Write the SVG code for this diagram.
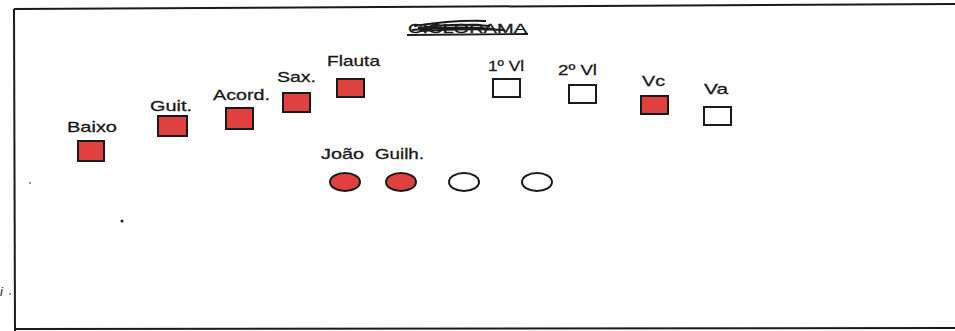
<svg xmlns="http://www.w3.org/2000/svg" width="955" height="331" viewBox="0 0 955 331">
<style>
text{font-family:"Liberation Sans",Arial,sans-serif;font-size:15px;fill:#1a1a1a;stroke:#1a1a1a;stroke-width:0.3}
.r{fill:#e0413f;stroke:#1a1a1a;stroke-width:2}
.w{fill:#fff;stroke:#1a1a1a;stroke-width:2}
</style>
<rect width="955" height="331" fill="#fff"/>
<g id="frame" fill="none" stroke="#1a1a1a" stroke-width="2">
<path d="M14 9 L955 4"/>
<path d="M14 9 L15 331"/>
<path d="M15 329 L955 328"/>
</g>
<g id="title">
<text x="408" y="33" textLength="119" lengthAdjust="spacingAndGlyphs" style="font-size:13px">CICLORAMA</text>
<path d="M407 35 L528 34" stroke="#1a1a1a" stroke-width="1.8" fill="none"/>
<path d="M414 26 C440 22 460 20 486 21 M418 28 C445 24 470 24 490 26 M412 30 C440 27 470 27 495 29 M420 31 C450 29 480 29 505 30" stroke="#1a1a1a" stroke-width="2" fill="none"/>
</g>
<g id="baixo"><text x="67" y="132" textLength="50" lengthAdjust="spacingAndGlyphs">Baixo</text><rect class="r" x="78" y="141" width="26" height="20"/></g>
<g id="guit"><text x="150" y="111" textLength="42" lengthAdjust="spacingAndGlyphs">Guit.</text><rect class="r" x="158" y="116" width="29" height="20"/></g>
<g id="acord"><text x="213" y="100" textLength="57" lengthAdjust="spacingAndGlyphs">Acord.</text><rect class="r" x="226" y="108" width="27" height="21"/></g>
<g id="sax"><text x="277" y="82" textLength="39" lengthAdjust="spacingAndGlyphs">Sax.</text><rect class="r" x="283" y="93" width="27" height="19"/></g>
<g id="flauta"><text x="327" y="66" textLength="53" lengthAdjust="spacingAndGlyphs">Flauta</text><rect class="r" x="337" y="79" width="27" height="18"/></g>
<g id="vl1"><text x="488" y="71" textLength="36" lengthAdjust="spacingAndGlyphs">1º Vl</text><rect class="w" x="493" y="79" width="27" height="18"/></g>
<g id="vl2"><text x="558" y="75" textLength="39" lengthAdjust="spacingAndGlyphs">2º Vl</text><rect class="w" x="569" y="85" width="27" height="18"/></g>
<g id="vc"><text x="642" y="86" textLength="23" lengthAdjust="spacingAndGlyphs">Vc</text><rect class="r" x="641" y="96" width="27" height="18"/></g>
<g id="va"><text x="704" y="94" textLength="24" lengthAdjust="spacingAndGlyphs">Va</text><rect class="w" x="704" y="107" width="27" height="18"/></g>
<g id="joao"><text x="321" y="159" textLength="43" lengthAdjust="spacingAndGlyphs">João</text><ellipse class="r" cx="345" cy="182" rx="15" ry="9"/></g>
<g id="guilh"><text x="375" y="159" textLength="49" lengthAdjust="spacingAndGlyphs">Guilh.</text><ellipse class="r" cx="401" cy="182" rx="15" ry="9"/></g>
<g id="c3"><ellipse class="w" cx="464" cy="182" rx="15" ry="9"/></g>
<g id="c4"><ellipse class="w" cx="537" cy="182" rx="15" ry="9"/></g>
<g id="connectors"></g>
<g id="marks" fill="#1a1a1a">
<circle cx="122" cy="221" r="1.5"/>
<circle cx="30" cy="183" r="0.8"/>
<text x="0" y="296" style="font-style:italic;font-size:13px;stroke:none">i</text>
<circle cx="10" cy="294" r="0.8"/>
</g>
</svg>
